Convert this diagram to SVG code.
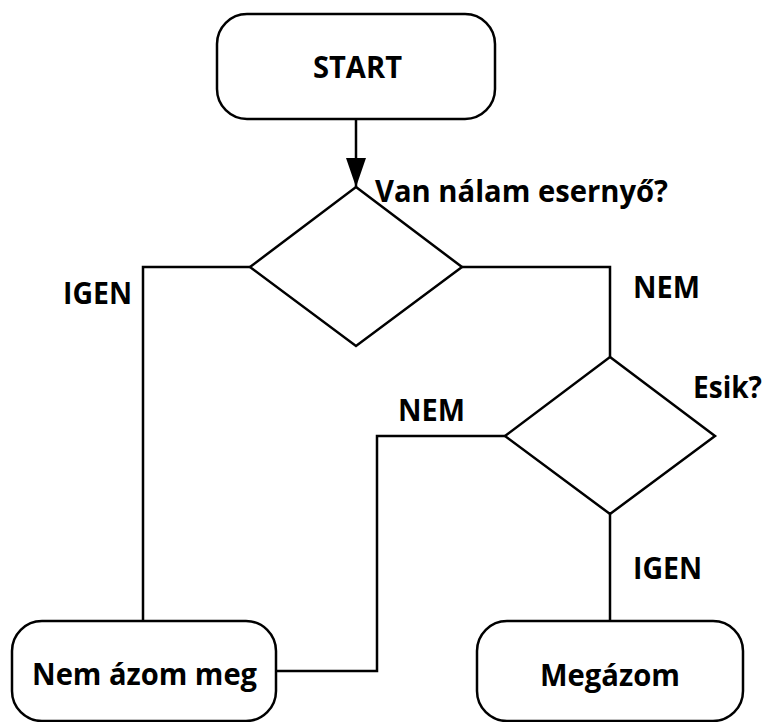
<svg xmlns="http://www.w3.org/2000/svg" width="768" height="722" viewBox="0 0 768 722">
  <style>
    .shape { fill: #ffffff; stroke: #000000; stroke-width: 2.5; }
    .wire { fill: none; stroke: #000000; stroke-width: 2.5; }
    .label { font-family: "Open Sans", "Liberation Sans", sans-serif; font-weight: bold; font-size: 30px; fill: #000000; }
  </style>
  <defs>
    <!-- filled arrowhead, tip at the end of the line -->
    <marker id="arrow" markerUnits="userSpaceOnUse" markerWidth="29" markerHeight="20" refX="29" refY="10" orient="auto" viewBox="0 0 29 20">
      <path d="M0,0 L29,10 L0,20 Z" fill="#000000"/>
    </marker>
  </defs>
  <rect width="768" height="722" fill="#ffffff"/>

  <!-- connectors -->
  <g id="connectors">
    <line class="wire" x1="356" y1="119" x2="356" y2="187" marker-end="url(#arrow)"/>
    <polyline class="wire" points="250,267 143,267 143,621"/>
    <polyline class="wire" points="462,267 610,267 610,357"/>
    <line class="wire" x1="610" y1="514" x2="610" y2="621"/>
    <polyline class="wire" points="505,436 377,436 377,671 276,671"/>
  </g>

  <!-- nodes -->
  <g id="start">
    <rect class="shape" x="217" y="14" width="278" height="105" rx="30" ry="30"/>
    <text class="label" x="357.5" y="78" text-anchor="middle" textLength="89" lengthAdjust="spacingAndGlyphs">START</text>
  </g>

  <g id="umbrella-decision">
    <polygon class="shape" points="356,187 462,267 356,346 250,267"/>
    <text class="label" x="375" y="202" textLength="293" lengthAdjust="spacingAndGlyphs">Van nálam esernyő?</text>
  </g>

  <g id="rain-decision">
    <polygon class="shape" points="610,357 715,436 610,514 505,436"/>
    <text class="label" x="693" y="398" textLength="69" lengthAdjust="spacingAndGlyphs">Esik?</text>
  </g>

  <g id="dry">
    <rect class="shape" x="12" y="621" width="264" height="100" rx="30" ry="30"/>
    <text class="label" x="32" y="685" textLength="225" lengthAdjust="spacingAndGlyphs">Nem ázom meg</text>
  </g>

  <g id="wet">
    <rect class="shape" x="477" y="621" width="266" height="100" rx="30" ry="30"/>
    <text class="label" x="540" y="686" textLength="140" lengthAdjust="spacingAndGlyphs">Megázom</text>
  </g>

  <!-- branch labels -->
  <g id="branch-labels">
    <text class="label" x="63" y="304" textLength="69" lengthAdjust="spacingAndGlyphs">IGEN</text>
    <text class="label" x="633" y="298" textLength="67" lengthAdjust="spacingAndGlyphs">NEM</text>
    <text class="label" x="398" y="421" textLength="67" lengthAdjust="spacingAndGlyphs">NEM</text>
    <text class="label" x="633" y="579" textLength="69" lengthAdjust="spacingAndGlyphs">IGEN</text>
  </g>
</svg>
